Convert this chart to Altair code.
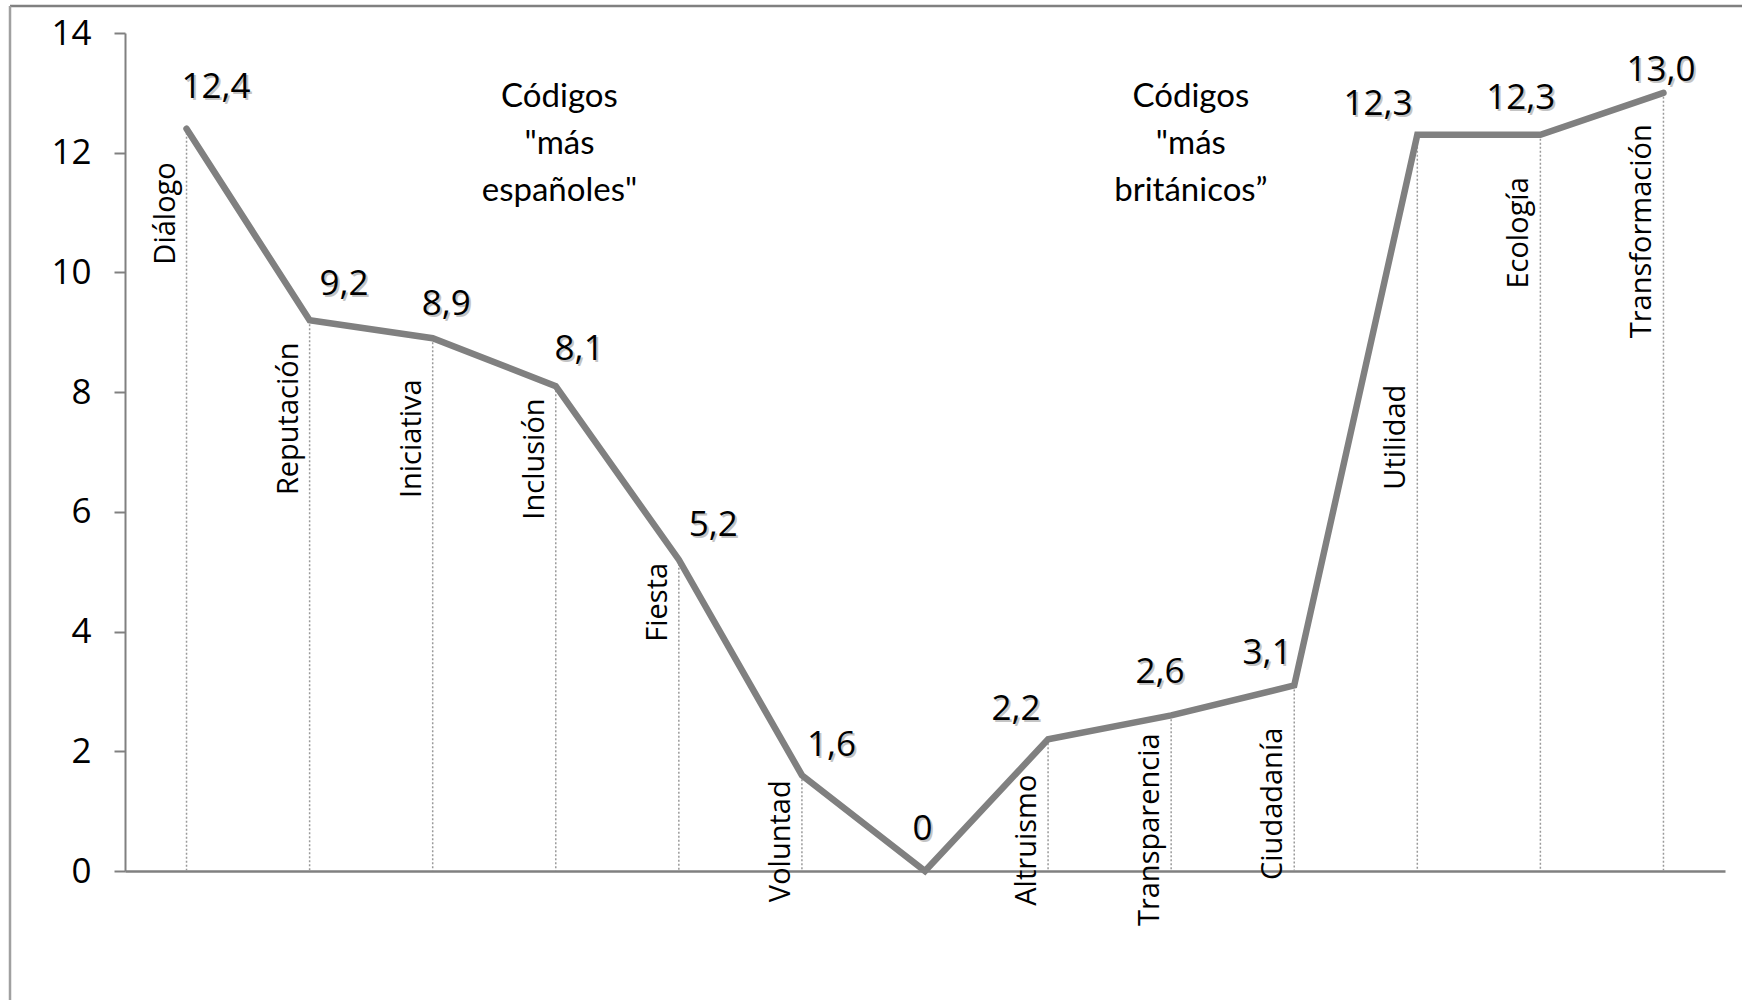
import altair as alt
import pandas as pd

# ---- data ----
categories = ["Diálogo", "Reputación", "Iniciativa", "Inclusión", "Fiesta", "Voluntad", "",
              "Altruismo", "Transparencia", "Ciudadanía", "Utilidad", "Ecología", "Transformación"]
values = [12.4, 9.2, 8.9, 8.1, 5.2, 1.6, 0.0, 2.2, 2.6, 3.1, 12.3, 12.3, 13.0]
value_labels = ["12,4", "9,2", "8,9", "8,1", "5,2", "1,6", "0", "2,2", "2,6", "3,1", "12,3", "12,3", "13,0"]

# label placement offsets (category units / data units)
label_dx = [0.24, 0.28, 0.11, 0.19, 0.28, 0.24, -0.02, -0.26, -0.09, -0.22, -0.32, -0.16, -0.02]
label_dy = [0.70, 0.60, 0.58, 0.62, 0.58, 0.50, 0.70, 0.50, 0.73, 0.55, 0.52, 0.62, 0.38]
# where each rotated category label starts (data units)
cat_label_start = [10.13, 6.28, 6.23, 5.87, 3.83, -0.52, 0.0, -0.58, -0.92, -0.15, 6.37, 9.73, 8.9]

y_ticks = [0, 2, 4, 6, 8, 10, 12, 14]

notes = ['Códigos\n"más\nespañoles"', 'Códigos\n"más\nbritánicos”']
note_x = [3.03, 8.16]
note_y = [12.77, 12.77]

df = pd.DataFrame({
    "idx": list(range(len(categories))),
    "cat": categories,
    "val": values,
    "lab": value_labels,
    "lx": [i + d for i, d in enumerate(label_dx)],
    "ly": [v + d for v, d in zip(values, label_dy)],
    "cy": cat_label_start,
})
notes_df = pd.DataFrame({"txt": notes, "x": note_x, "y": note_y})

GRAY = "#808080"
FONT = "Open Sans"

xs = alt.Scale(domain=[-0.5, 12.5], nice=False, zero=False)
ys = alt.Scale(domain=[0, 14], nice=False, zero=True)

base = alt.Chart(df)

x_enc = alt.X("idx:Q", scale=xs,
              axis=alt.Axis(labels=False, ticks=False, grid=False, title=None,
                            domainColor=GRAY, domainWidth=2.5))
y_enc = alt.Y("val:Q", scale=ys,
              axis=alt.Axis(values=y_ticks, format="d", grid=False, title=None,
                            labelFontSize=35, labelFont=FONT, labelColor="#000000",
                            tickSize=11, tickColor=GRAY, tickWidth=2, domainColor=GRAY,
                            domainWidth=2, labelPadding=23))

nonblank = alt.datum.cat != ""

drops = base.mark_rule(color="#9a9a9a", strokeWidth=1.5, strokeDash=[2, 2]).encode(
    x=x_enc, y=y_enc, y2=alt.Y2(datum=0)
).transform_filter(nonblank)

line = base.mark_line(color=GRAY, strokeWidth=6.5, strokeCap="round").encode(
    x=x_enc, y=y_enc
)

cat_text = base.mark_text(angle=270, align="left", baseline="alphabetic", dy=-12,
                          font=FONT, fontSize=29, color="#000000").encode(
    x=alt.X("idx:Q", scale=xs), y=alt.Y("cy:Q", scale=ys), text="cat:N"
).transform_filter(nonblank)

val_shadow = base.mark_text(font=FONT, fontSize=35, color="#c4c4c4", dx=2, dy=2,
                            baseline="middle").encode(
    x=alt.X("lx:Q", scale=xs), y=alt.Y("ly:Q", scale=ys), text="lab:N"
)
val_text = base.mark_text(font=FONT, fontSize=35, color="#000000",
                          baseline="middle").encode(
    x=alt.X("lx:Q", scale=xs), y=alt.Y("ly:Q", scale=ys), text="lab:N"
)

note_text = alt.Chart(notes_df).mark_text(font="Lato", fontSize=33, color="#000000",
                                          lineBreak="\n", lineHeight=47,
                                          baseline="alphabetic", align="center").encode(
    x=alt.X("x:Q", scale=xs), y=alt.Y("y:Q", scale=ys), text="txt:N"
)

frame_df = pd.DataFrame({"a": [0]})
frame_top = alt.Chart(frame_df).mark_rule(color=GRAY, strokeWidth=2.5).encode(
    x=alt.value(-115), x2=alt.value(1620), y=alt.value(-27)
)
frame_left = alt.Chart(frame_df).mark_rule(color="#a0a0a0", strokeWidth=2.5).encode(
    x=alt.value(-115), y=alt.value(-27), y2=alt.value(970)
)

chart = alt.layer(
    frame_top, frame_left, drops, line, cat_text, val_shadow, val_text, note_text
).properties(
    width=1600, height=838,
    padding={"left": 125, "top": 33, "right": 17, "bottom": 129},
    autosize=alt.AutoSizeParams(type="none"),
    background="#ffffff",
).configure_view(stroke=None)

chart.save("out.html", embed_options={"renderer": "svg", "actions": False})
